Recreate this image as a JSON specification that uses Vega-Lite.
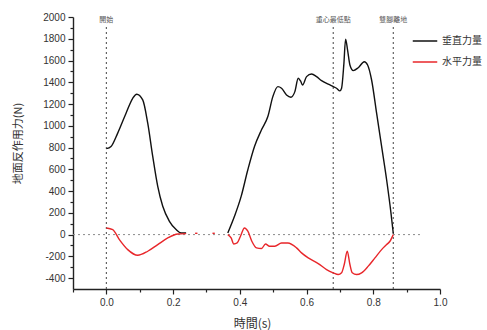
{
  "$schema": "https://vega.github.io/schema/vega-lite/v6.json",
  "width": 367,
  "height": 272,
  "autosize": {"type": "none"},
  "padding": {"left": 73, "top": 17, "right": 47, "bottom": 41},
  "background": "white",
  "config": {
    "view": {"stroke": null},
    "font": "Liberation Sans",
    "axis": {
      "grid": false,
      "domainColor": "#222",
      "domainWidth": 1.4,
      "tickColor": "#222",
      "tickWidth": 1.2,
      "labelColor": "#333",
      "labelFontSize": 10,
      "labelFont": "Liberation Sans",
      "labelOverlap": false,
      "labelFlush": false,
      "titleFont": "Noto Sans CJK TC",
      "titleFontWeight": "normal",
      "titleColor": "#333"
    }
  },
  "datasets": {
    "force": [
      {"t": 0.0, "v": 790, "series": "垂直力量", "seg": "v1"},
      {"t": 0.014, "v": 810, "series": "垂直力量", "seg": "v1"},
      {"t": 0.034, "v": 933, "series": "垂直力量", "seg": "v1"},
      {"t": 0.059, "v": 1116, "series": "垂直力量", "seg": "v1"},
      {"t": 0.079, "v": 1253, "series": "垂直力量", "seg": "v1"},
      {"t": 0.091, "v": 1290, "series": "垂直力量", "seg": "v1"},
      {"t": 0.109, "v": 1238, "series": "垂直力量", "seg": "v1"},
      {"t": 0.124, "v": 1024, "series": "垂直力量", "seg": "v1"},
      {"t": 0.139, "v": 718, "series": "垂直力量", "seg": "v1"},
      {"t": 0.154, "v": 443, "series": "垂直力量", "seg": "v1"},
      {"t": 0.169, "v": 260, "series": "垂直力量", "seg": "v1"},
      {"t": 0.189, "v": 122, "series": "垂直力量", "seg": "v1"},
      {"t": 0.209, "v": 46, "series": "垂直力量", "seg": "v1"},
      {"t": 0.224, "v": 15, "series": "垂直力量", "seg": "v1"},
      {"t": 0.239, "v": 15, "series": "垂直力量", "seg": "v1"},

      {"t": 0.364, "v": 15, "series": "垂直力量", "seg": "v2"},
      {"t": 0.384, "v": 168, "series": "垂直力量", "seg": "v2"},
      {"t": 0.404, "v": 351, "series": "垂直力量", "seg": "v2"},
      {"t": 0.424, "v": 596, "series": "垂直力量", "seg": "v2"},
      {"t": 0.444, "v": 810, "series": "垂直力量", "seg": "v2"},
      {"t": 0.465, "v": 963, "series": "垂直力量", "seg": "v2"},
      {"t": 0.484, "v": 1085, "series": "垂直力量", "seg": "v2"},
      {"t": 0.499, "v": 1268, "series": "垂直力量", "seg": "v2"},
      {"t": 0.514, "v": 1360, "series": "垂直力量", "seg": "v2"},
      {"t": 0.525, "v": 1345, "series": "垂直力量", "seg": "v2"},
      {"t": 0.54, "v": 1284, "series": "垂直力量", "seg": "v2"},
      {"t": 0.553, "v": 1263, "series": "垂直力量", "seg": "v2"},
      {"t": 0.565, "v": 1314, "series": "垂直力量", "seg": "v2"},
      {"t": 0.575, "v": 1437, "series": "垂直力量", "seg": "v2"},
      {"t": 0.582, "v": 1412, "series": "垂直力量", "seg": "v2"},
      {"t": 0.588, "v": 1375, "series": "垂直力量", "seg": "v2"},
      {"t": 0.6, "v": 1452, "series": "垂直力量", "seg": "v2"},
      {"t": 0.615, "v": 1476, "series": "垂直力量", "seg": "v2"},
      {"t": 0.63, "v": 1452, "series": "垂直力量", "seg": "v2"},
      {"t": 0.645, "v": 1415, "series": "垂直力量", "seg": "v2"},
      {"t": 0.665, "v": 1382, "series": "垂直力量", "seg": "v2"},
      {"t": 0.68, "v": 1360, "series": "垂直力量", "seg": "v2"},
      {"t": 0.69, "v": 1345, "series": "垂直力量", "seg": "v2"},
      {"t": 0.7, "v": 1321, "series": "垂直力量", "seg": "v2"},
      {"t": 0.705, "v": 1345, "series": "垂直力量", "seg": "v2"},
      {"t": 0.712, "v": 1574, "series": "垂直力量", "seg": "v2"},
      {"t": 0.717, "v": 1797, "series": "垂直力量", "seg": "v2"},
      {"t": 0.723, "v": 1696, "series": "垂直力量", "seg": "v2"},
      {"t": 0.73, "v": 1559, "series": "垂直力量", "seg": "v2"},
      {"t": 0.74, "v": 1507, "series": "垂直力量", "seg": "v2"},
      {"t": 0.755, "v": 1534, "series": "垂直力量", "seg": "v2"},
      {"t": 0.773, "v": 1589, "series": "垂直力量", "seg": "v2"},
      {"t": 0.783, "v": 1559, "series": "垂直力量", "seg": "v2"},
      {"t": 0.795, "v": 1421, "series": "垂直力量", "seg": "v2"},
      {"t": 0.81, "v": 1116, "series": "垂直力量", "seg": "v2"},
      {"t": 0.825, "v": 810, "series": "垂直力量", "seg": "v2"},
      {"t": 0.84, "v": 504, "series": "垂直力量", "seg": "v2"},
      {"t": 0.853, "v": 199, "series": "垂直力量", "seg": "v2"},
      {"t": 0.86, "v": 10, "series": "垂直力量", "seg": "v2"},

      {"t": 0.0, "v": 61, "series": "水平力量", "seg": "h1"},
      {"t": 0.019, "v": 46, "series": "水平力量", "seg": "h1"},
      {"t": 0.039, "v": -46, "series": "水平力量", "seg": "h1"},
      {"t": 0.064, "v": -138, "series": "水平力量", "seg": "h1"},
      {"t": 0.094, "v": -190, "series": "水平力量", "seg": "h1"},
      {"t": 0.124, "v": -153, "series": "水平力量", "seg": "h1"},
      {"t": 0.154, "v": -92, "series": "水平力量", "seg": "h1"},
      {"t": 0.184, "v": -31, "series": "水平力量", "seg": "h1"},
      {"t": 0.214, "v": 6, "series": "水平力量", "seg": "h1"},
      {"t": 0.239, "v": 9, "series": "水平力量", "seg": "h1"},

      {"t": 0.266, "v": 12, "series": "水平力量", "seg": "h2"},
      {"t": 0.273, "v": 12, "series": "水平力量", "seg": "h2"},
      {"t": 0.318, "v": 12, "series": "水平力量", "seg": "h3"},
      {"t": 0.325, "v": 12, "series": "水平力量", "seg": "h3"},

      {"t": 0.364, "v": 0, "series": "水平力量", "seg": "h4"},
      {"t": 0.374, "v": -31, "series": "水平力量", "seg": "h4"},
      {"t": 0.382, "v": -86, "series": "水平力量", "seg": "h4"},
      {"t": 0.392, "v": -77, "series": "水平力量", "seg": "h4"},
      {"t": 0.402, "v": -15, "series": "水平力量", "seg": "h4"},
      {"t": 0.414, "v": 61, "series": "水平力量", "seg": "h4"},
      {"t": 0.424, "v": 31, "series": "水平力量", "seg": "h4"},
      {"t": 0.436, "v": -61, "series": "水平力量", "seg": "h4"},
      {"t": 0.45, "v": -122, "series": "水平力量", "seg": "h4"},
      {"t": 0.465, "v": -128, "series": "水平力量", "seg": "h4"},
      {"t": 0.477, "v": -86, "series": "水平力量", "seg": "h4"},
      {"t": 0.489, "v": -107, "series": "水平力量", "seg": "h4"},
      {"t": 0.505, "v": -107, "series": "水平力量", "seg": "h4"},
      {"t": 0.525, "v": -77, "series": "水平力量", "seg": "h4"},
      {"t": 0.544, "v": -77, "series": "水平力量", "seg": "h4"},
      {"t": 0.57, "v": -122, "series": "水平力量", "seg": "h4"},
      {"t": 0.585, "v": -168, "series": "水平力量", "seg": "h4"},
      {"t": 0.605, "v": -214, "series": "水平力量", "seg": "h4"},
      {"t": 0.635, "v": -266, "series": "水平力量", "seg": "h4"},
      {"t": 0.66, "v": -321, "series": "水平力量", "seg": "h4"},
      {"t": 0.68, "v": -351, "series": "水平力量", "seg": "h4"},
      {"t": 0.695, "v": -367, "series": "水平力量", "seg": "h4"},
      {"t": 0.705, "v": -351, "series": "水平力量", "seg": "h4"},
      {"t": 0.713, "v": -275, "series": "水平力量", "seg": "h4"},
      {"t": 0.722, "v": -153, "series": "水平力量", "seg": "h4"},
      {"t": 0.73, "v": -275, "series": "水平力量", "seg": "h4"},
      {"t": 0.737, "v": -351, "series": "水平力量", "seg": "h4"},
      {"t": 0.75, "v": -367, "series": "水平力量", "seg": "h4"},
      {"t": 0.765, "v": -351, "series": "水平力量", "seg": "h4"},
      {"t": 0.785, "v": -290, "series": "水平力量", "seg": "h4"},
      {"t": 0.805, "v": -214, "series": "水平力量", "seg": "h4"},
      {"t": 0.825, "v": -138, "series": "水平力量", "seg": "h4"},
      {"t": 0.84, "v": -92, "series": "水平力量", "seg": "h4"},
      {"t": 0.85, "v": -61, "series": "水平力量", "seg": "h4"},
      {"t": 0.86, "v": 0, "series": "水平力量", "seg": "h4"}
    ],
    "events": [
      {"t": 0.0, "label": "開始"},
      {"t": 0.68, "label": "重心最低點"},
      {"t": 0.86, "label": "雙腳離地"}
    ],
    "zero": [
      {"t": -0.1, "t2": 0.94, "v": 0}
    ]
  },
  "encoding": {
    "x": {
      "field": "t",
      "type": "quantitative",
      "scale": {"domain": [-0.1, 1.0], "nice": false, "zero": false},
      "axis": {
        "values": [-0.1, 0.0, 0.1, 0.2, 0.3, 0.4, 0.5, 0.6, 0.7, 0.8, 0.9, 1.0],
        "labelExpr": "round(datum.value * 10) % 2 === 0 ? format(datum.value, '.1f') : ''",
        "tickSize": {"condition": {"test": "round(datum.value * 10) % 2 === 0", "value": 5}, "value": 3},
        "labelPadding": 3,
        "title": "時間(s)",
        "titleFontSize": 12,
        "titleX": 179,
        "titleY": 34,
        "titleAlign": "center",
        "titleBaseline": "middle"
      }
    },
    "y": {
      "field": "v",
      "type": "quantitative",
      "scale": {"domain": [-500, 2000], "nice": false, "zero": false},
      "axis": {
        "values": [-400, -300, -200, -100, 0, 100, 200, 300, 400, 500, 600, 700, 800, 900, 1000, 1100, 1200, 1300, 1400, 1500, 1600, 1700, 1800, 1900, 2000],
        "labelExpr": "datum.value % 200 === 0 ? datum.value : ''",
        "tickSize": {"condition": {"test": "datum.value % 200 === 0", "value": 5}, "value": 3},
        "labelPadding": 3,
        "title": "地面反作用力(N)",
        "titleFontSize": 11,
        "titleAngle": -90,
        "titleX": -55,
        "titleY": 126,
        "titleAlign": "center",
        "titleBaseline": "middle"
      }
    }
  },
  "layer": [
    {
      "data": {"name": "zero"},
      "mark": {"type": "rule", "color": "#8a8a8a", "strokeDash": [2, 3], "strokeWidth": 1},
      "encoding": {
        "x2": {"field": "t2"}
      }
    },
    {
      "data": {"name": "events"},
      "mark": {"type": "rule", "color": "#555", "strokeDash": [2, 3], "strokeWidth": 1.1},
      "encoding": {
        "y": {"value": 272},
        "y2": {"value": 10}
      }
    },
    {
      "data": {"name": "events"},
      "mark": {"type": "text", "font": "Noto Sans CJK TC", "fontSize": 7, "color": "#555", "baseline": "middle", "align": "center"},
      "encoding": {
        "y": {"value": 3},
        "text": {"field": "label"}
      }
    },
    {
      "data": {"name": "force"},
      "mark": {"type": "line", "strokeWidth": 1.4, "interpolate": "monotone"},
      "encoding": {
        "color": {
          "field": "series",
          "type": "nominal",
          "scale": {"domain": ["垂直力量", "水平力量"], "range": ["#111111", "#e8262a"]},
          "legend": {
            "title": null,
            "orient": "none",
            "legendX": 339,
            "legendY": 11,
            "symbolType": "stroke",
            "symbolSize": 600,
            "symbolStrokeWidth": 1.5,
            "labelFont": "Noto Sans CJK TC",
            "labelFontSize": 10,
            "labelColor": "#333",
            "rowPadding": 3,
            "labelOffset": 4
          }
        },
        "detail": {"field": "seg", "type": "nominal"}
      }
    }
  ]
}
